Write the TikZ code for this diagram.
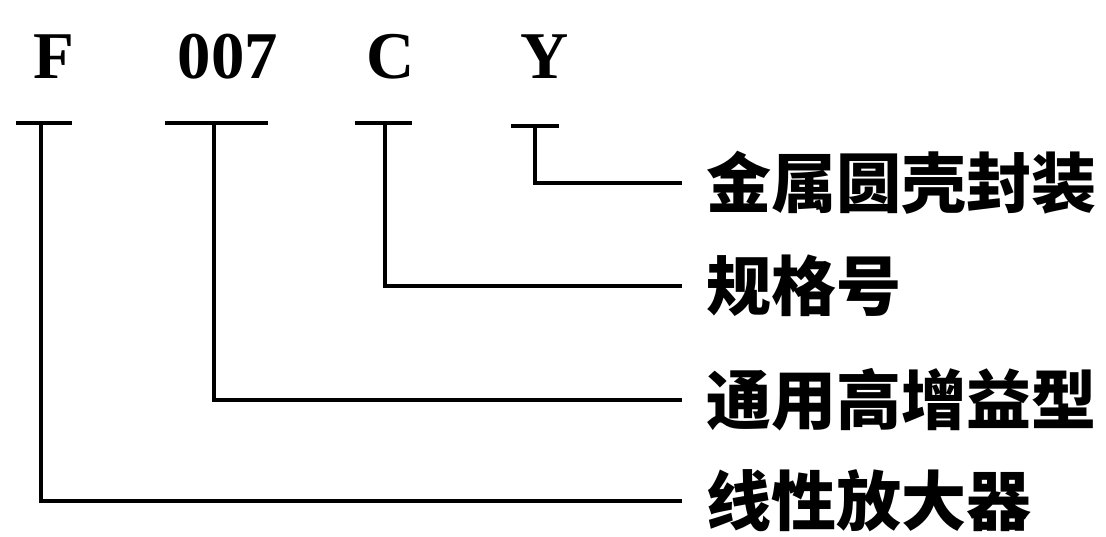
\documentclass[tikz,border=0pt]{standalone}
\usepackage{fontspec}
\setmainfont{Liberation Serif}
\newfontfamily\cjk{Noto Sans CJK SC}
\usetikzlibrary{positioning}

\begin{document}
\begin{tikzpicture}[line width=1.2pt,
  code/.style={font=\fontsize{19}{20}\selectfont\bfseries,inner sep=0pt,anchor=base},
  meaning/.style={font=\cjk\fontsize{18.5}{20}\selectfont\bfseries,inner xsep=2.2mm,inner ysep=0pt,anchor=west}]
\useasboundingbox (0,0) rectangle (11.06,5.36);
% model number
\node[code] (f) at (0.54,4.58) {F};
\node[code] (num) at (2.28,4.58) {007};
\node[code] (c) at (3.91,4.58) {C};
\node[code] (y) at (5.45,4.58) {Y};
% bars under the parts
\coordinate (fbar) at (0.41,4.13);
\coordinate (numbar) at (2.14,4.13);
\coordinate (cbar) at (3.85,4.13);
\coordinate (ybar) at (5.35,4.10);
% meanings
\node[meaning] (pkg) at (6.82,3.53) {金属圆壳封装};
\node[meaning] (spec) at (6.82,2.50) {规格号};
\node[meaning] (gain) at (6.82,1.36) {通用高增益型};
\node[meaning] (amp) at (6.82,0.35) {线性放大器};
\draw ([xshift=-2.5mm]fbar) -- ([xshift=3.1mm]fbar);
\draw ([xshift=-4.9mm]numbar) -- ([xshift=5.4mm]numbar);
\draw ([xshift=-3mm]cbar) -- ([xshift=2.7mm]cbar);
\draw ([xshift=-2.4mm]ybar) -- ([xshift=2.4mm]ybar);
\draw (ybar) |- (pkg.west);
\draw (cbar) |- (spec.west);
\draw (numbar) |- (gain.west);
\draw (fbar) |- (amp.west);
\end{tikzpicture}
\end{document}
